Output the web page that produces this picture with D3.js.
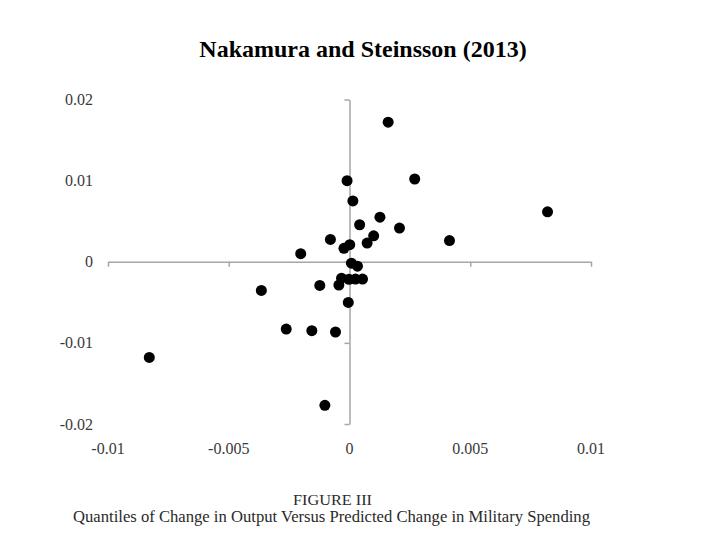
<!DOCTYPE html>
<html lang="en">
<head>
  <meta charset="UTF-8" />
  <title>Nakamura and Steinsson (2013)</title>
  <script src="https://d3js.org/d3.v7.min.js"></script>
  <style>
    body { margin: 0; background: #fff; }
    svg text { font-family: "Liberation Serif", "Times New Roman", serif; }
  </style>
</head>
<body>
  <svg id="chart" width="720" height="540"></svg>

  <script>
    // predicted change in military spending (x) vs change in output (y)
    const spending = [
      -0.0001, 0.0016, 0.0027, 0.00014, 0.00126, 0.00042, 0.00207, 0.0010,
      -0.00079, 0.00414, 0.00073, 0.00001, -0.00023, -0.00202, 0.0082,
      0.00008, 0.00033, -0.00033, -0.00002, 0.00025, 0.00054, -0.00044,
      -0.00123, -0.00365, -0.00005, -0.00262, -0.00156, -0.00058, -0.00829, -0.00102
    ];
    const output = [
      0.0100, 0.0172, 0.0102, 0.0075, 0.0055, 0.00456, 0.00415, 0.0032,
      0.00275, 0.00261, 0.0023, 0.0021, 0.00166, 0.00099, 0.00616,
      -0.00018, -0.00055, -0.00203, -0.00216, -0.00213, -0.00213, -0.00287,
      -0.00292, -0.00353, -0.00501, -0.0083, -0.0085, -0.00866, -0.01179, -0.0177
    ];
    const xTicks = [-0.01, -0.005, 0, 0.005, 0.01];
    const yTicks = [0.02, 0.01, 0, -0.01, -0.02];
    const xTickLabels = ["-0.01", "-0.005", "0", "0.005", "0.01"];
    const yTickLabels = ["0.02", "0.01", "0", "-0.01", "-0.02"];

    const svg = d3.select("#chart");

    const x = d3.scaleLinear().domain([-0.01, 0.01]).range([108, 591]);
    const y = d3.scaleLinear().domain([-0.02, 0.02]).range([424, 99.5]);

    const axisColor = "#a6a6a6";

    // title
    svg.append("text")
      .attr("x", 363).attr("y", 57)
      .attr("text-anchor", "middle")
      .style("font-size", "24px")
      .style("font-weight", "bold")
      .text("Nakamura and Steinsson (2013)");

    // horizontal axis through y = 0
    const xAxis = d3.axisBottom(x)
      .tickValues(xTicks)
      .tickSize(5)
      .tickSizeOuter(0)
      .tickFormat(() => "");
    const gx = svg.append("g")
      .attr("transform", `translate(0,${y(0)})`)
      .call(xAxis);

    // vertical axis through x = 0
    const yAxis = d3.axisLeft(y)
      .tickValues(yTicks)
      .tickSize(5)
      .tickSizeOuter(0)
      .tickFormat(() => "");
    const gy = svg.append("g")
      .attr("transform", `translate(${x(0)},0)`)
      .call(yAxis);

    [gx, gy].forEach(g => {
      g.select(".domain").attr("stroke", axisColor).attr("stroke-width", 1.5);
      g.selectAll(".tick line").attr("stroke", axisColor).attr("stroke-width", 1.5);
    });

    // tick labels sit on the outer edges (Excel "low" position)
    svg.append("g").selectAll("text")
      .data(yTicks)
      .join("text")
      .attr("x", 93)
      .attr("y", d => y(d))
      .attr("dy", "0.35em")
      .attr("text-anchor", "end")
      .attr("fill", "#3a3a3a")
      .style("font-size", "16px")
      .text((d, i) => yTickLabels[i]);

    svg.append("g").selectAll("text")
      .data(xTicks)
      .join("text")
      .attr("x", d => x(d))
      .attr("y", 448)
      .attr("dy", "0.35em")
      .attr("text-anchor", "middle")
      .attr("fill", "#3a3a3a")
      .style("font-size", "16px")
      .text((d, i) => xTickLabels[i]);

    // points
    svg.append("g").selectAll("circle")
      .data(d3.range(spending.length))
      .join("circle")
      .attr("cx", i => x(spending[i]))
      .attr("cy", i => y(output[i]))
      .attr("r", 5.5)
      .attr("fill", "#000");

    // figure caption
    svg.append("text")
      .attr("x", 293).attr("y", 505)
      .attr("textLength", 79)
      .attr("lengthAdjust", "spacingAndGlyphs")
      .attr("fill", "#2a2a2a")
      .style("font-size", "15px")
      .text("FIGURE III");

    svg.append("text")
      .attr("x", 73).attr("y", 522)
      .attr("textLength", 517)
      .attr("lengthAdjust", "spacingAndGlyphs")
      .attr("fill", "#2a2a2a")
      .style("font-size", "16px")
      .text("Quantiles of Change in Output Versus Predicted Change in Military Spending");
  </script>
</body>
</html>
